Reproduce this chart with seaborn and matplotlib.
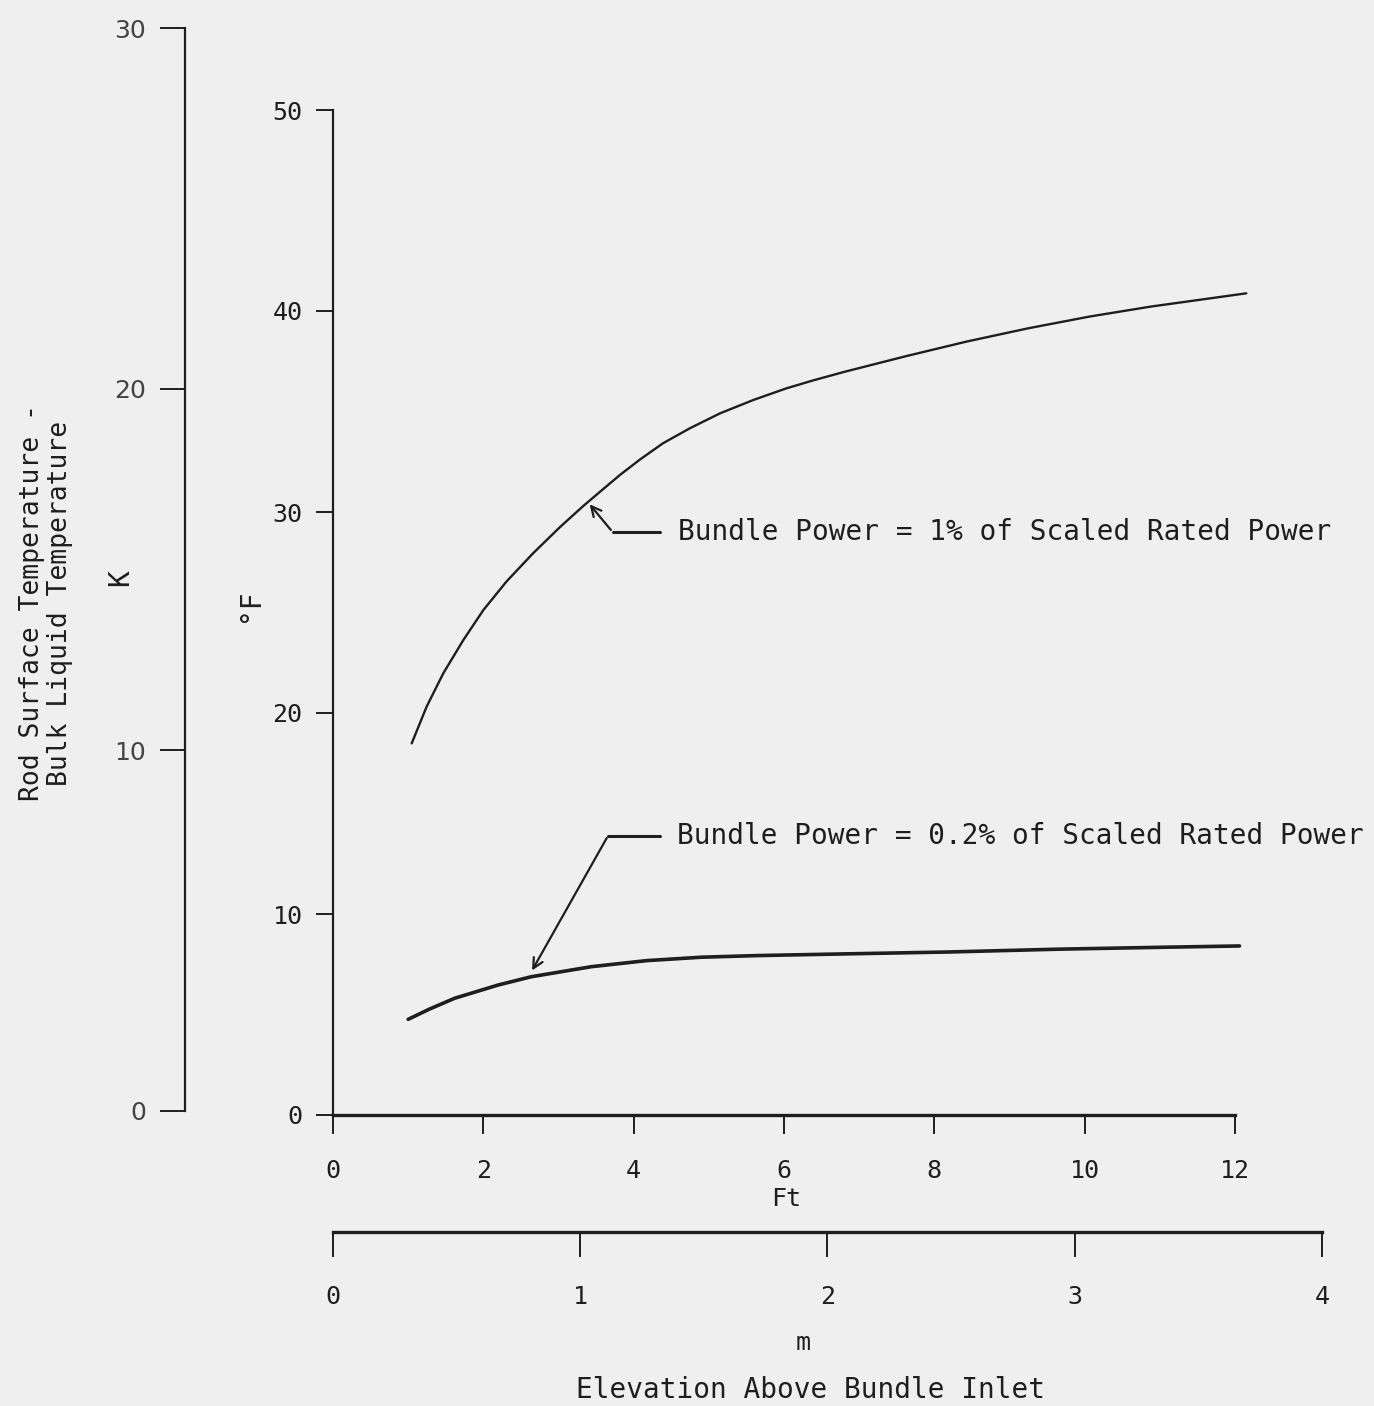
import numpy as np
import pandas as pd
import matplotlib
matplotlib.use("Agg")
import matplotlib.pyplot as plt
import seaborn as sns

# ---- data ----
ft_high = [1.047, 1.246, 1.468, 1.734, 2.0, 2.31, 2.66, 3.02, 3.33, 3.55, 3.82, 4.08,
           4.39, 4.75, 5.15, 5.59, 6.03, 6.39, 6.80, 7.62, 8.43, 9.25, 10.06, 10.88,
           11.69, 12.15]
dT_high = [18.49, 20.32, 21.98, 23.63, 25.12, 26.55, 27.94, 29.25, 30.3, 31.0, 31.85, 32.6,
           33.42, 34.17, 34.91, 35.57, 36.15, 36.55, 36.97, 37.75, 38.48, 39.14, 39.72, 40.22,
           40.64, 40.88]

ft_low = [1.0, 1.29, 1.62, 2.20, 2.64, 3.44, 4.17, 4.90, 5.63, 6.73, 8.19, 9.65, 11.11, 12.06]
dT_low = [4.76, 5.28, 5.81, 6.47, 6.88, 7.38, 7.68, 7.85, 7.93, 8.01, 8.11, 8.25, 8.35, 8.41]

ft_ticks = [0, 2, 4, 6, 8, 10, 12]
degf_ticks = [0, 10, 20, 30, 40, 50]
k_ticks = [0, 10, 20, 30]
m_ticks = [0, 1, 2, 3, 4]

label_high = "Bundle Power = 1% of Scaled Rated Power"
label_low = "Bundle Power = 0.2% of Scaled Rated Power"

# ---- style ----
sns.set_theme(style="white")
PAPER = "#efefef"
INK = "#1e1e1e"
plt.rcParams["font.family"] = ["DejaVu Sans Mono", "DejaVu Sans"]
plt.rcParams["text.color"] = INK
plt.rcParams["axes.edgecolor"] = INK
plt.rcParams["xtick.color"] = INK
plt.rcParams["ytick.color"] = INK

W, H = 1374, 1406
fig = plt.figure(figsize=(W / 100, H / 100), dpi=100, facecolor=PAPER)


def fx(px):
    return px / W


def fy(py):
    return 1 - py / H


df = pd.concat([
    pd.DataFrame({"ft": ft_high, "dT": dT_high, "case": "1%"}),
    pd.DataFrame({"ft": ft_low, "dT": dT_low, "case": "0.2%"}),
])

# main axes (°F vs ft)
ax = fig.add_axes([fx(333), fy(1115), fx(1235) - fx(333), fy(110) - fy(1115)])
ax.set_facecolor("none")
sns.lineplot(data=df[df["case"] == "1%"], x="ft", y="dT", ax=ax, color=INK,
             lw=1.7, sort=False, clip_on=False)
sns.lineplot(data=df[df["case"] == "0.2%"], x="ft", y="dT", ax=ax, color=INK,
             lw=2.6, sort=False, clip_on=False)
ax.set_xlim(0, 12)
ax.set_ylim(0, 50)
ax.set_xticks(ft_ticks)
ax.set_yticks(degf_ticks)
ax.set_xlabel("")
ax.set_ylabel("")
for s in ["top", "right"]:
    ax.spines[s].set_visible(False)
ax.spines["left"].set_linewidth(1.6)
ax.spines["bottom"].set_linewidth(2.4)
ax.tick_params(axis="x", direction="out", length=14, width=1.4, pad=18, labelsize=18)
ax.tick_params(axis="y", direction="out", length=12, width=1.4, pad=10, labelsize=18)
ax.xaxis.set_ticks_position("bottom")
ax.yaxis.set_ticks_position("left")

# annotations with elbow leaders
tip_x = 3.39
tip_y = np.interp(tip_x, ft_high, dT_high)
ax.plot([4.35, 3.72], [29.0, 29.0], color=INK, lw=2.2, clip_on=False)
ax.annotate("", xy=(tip_x, tip_y), xytext=(3.72, 29.0),
            arrowprops=dict(arrowstyle="->,head_length=0.6,head_width=0.3", color=INK, lw=1.6))
ax.text(4.59, 29.0, label_high, fontsize=20, va="center", ha="left")

tip2_x = 2.63
tip2_y = np.interp(tip2_x, ft_low, dT_low) + 0.2
ax.plot([4.35, 3.66], [13.9, 13.9], color=INK, lw=2.2, clip_on=False)
ax.annotate("", xy=(tip2_x, tip2_y), xytext=(3.66, 13.9),
            arrowprops=dict(arrowstyle="->,head_length=0.6,head_width=0.3", color=INK, lw=1.6))
ax.text(4.58, 13.9, label_low, fontsize=20, va="center", ha="left")

# K axis
axk = fig.add_axes([fx(185), fy(1111), 0.01, fy(28) - fy(1111)])
axk.set_facecolor("none")
axk.set_ylim(0, 30)
axk.set_yticks(k_ticks)
axk.set_xticks([])
for s in ["top", "right", "bottom"]:
    axk.spines[s].set_visible(False)
axk.spines["left"].set_linewidth(1.6)
axk.tick_params(axis="y", direction="out", length=18, width=1.4, pad=10, labelsize=18)
axk.yaxis.set_ticks_position("left")
for lab in axk.get_yticklabels():
    lab.set_family("DejaVu Sans")
    lab.set_color("#444444")

# metre axis
axm = fig.add_axes([fx(333), fy(1232), fx(1322) - fx(333), 0.005])
axm.set_facecolor("none")
axm.set_xlim(0, 4)
axm.set_xticks(m_ticks)
axm.set_yticks([])
for s in ["top", "right", "left"]:
    axm.spines[s].set_visible(False)
axm.spines["bottom"].set_linewidth(2.4)
axm.xaxis.set_ticks_position("bottom")
axm.tick_params(axis="x", direction="out", length=18, width=1.4, pad=20, labelsize=18)

# axis titles
fig.text(fx(786), fy(1199), "Ft", fontsize=18, ha="center", va="center")
fig.text(fx(803), fy(1343), "m", fontsize=18, ha="center", va="center")
fig.text(fx(810), fy(1390), "Elevation Above Bundle Inlet", fontsize=20,
         ha="center", va="center")
fig.text(fx(250), fy(605), "°F", fontsize=20, rotation=90, ha="center", va="center")
fig.text(fx(120), fy(578), "K", fontsize=20, rotation=90, ha="center", va="center")
fig.text(fx(46), fy(603), "Rod Surface Temperature -\nBulk Liquid Temperature",
         fontsize=19, rotation=90, ha="center", va="center", linespacing=1.1)

fig.savefig("out.png", dpi=100, facecolor=PAPER)
